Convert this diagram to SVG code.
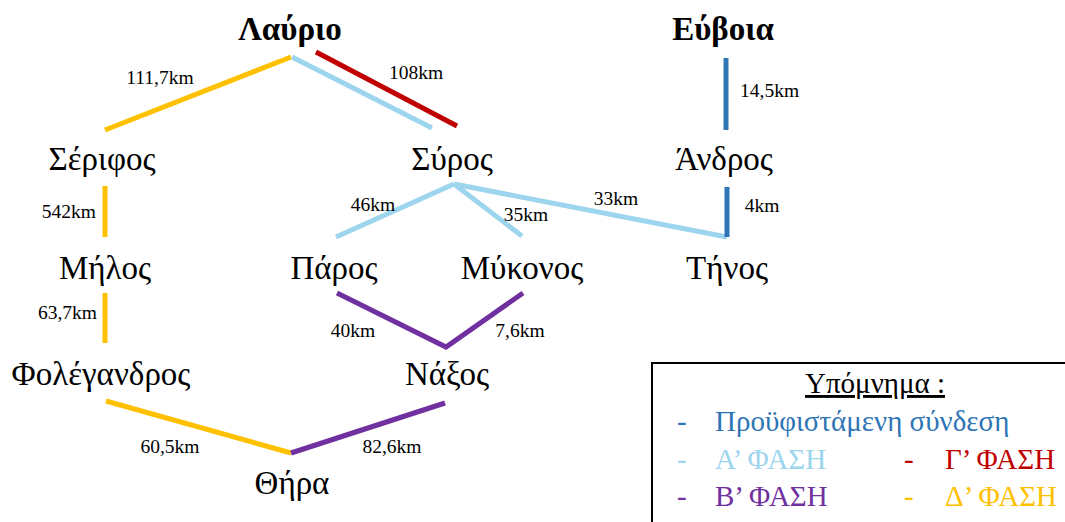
<svg xmlns="http://www.w3.org/2000/svg" width="1065" height="522" viewBox="0 0 1065 522">
<style>
text{font-family:'Liberation Serif','DejaVu Serif',serif}
.n{font-size:33px;fill:#000;text-anchor:middle}
.b{font-weight:bold}
.l{font-size:19.5px;fill:#000}
.m{text-anchor:middle}
.e{text-anchor:end}
.g{font-size:29px}
.c{fill:none;stroke-width:5;stroke-linecap:butt}
.y{stroke:#FFC000}.lb{stroke:#9DD5EE}.r{stroke:#C00000}.p{stroke:#7030A0}.bl{stroke:#2E75B6}
</style>
<rect width="1065" height="522" fill="#fff"/>
<g id="connectors">
<line class="c y" x1="291" y1="57" x2="105" y2="130"/>
<line class="c lb" x1="292" y1="57" x2="432" y2="128"/>
<line class="c r" x1="316" y1="52" x2="457" y2="126"/>
<line class="c bl" x1="726" y1="58" x2="726" y2="130"/>
<line class="c y" x1="105" y1="186" x2="105" y2="237"/>
<line class="c y" x1="105" y1="293" x2="105" y2="343"/>
<line class="c y" x1="106" y1="401" x2="291" y2="453"/>
<line class="c p" x1="291" y1="453" x2="445" y2="403"/>
<polyline class="c p" points="337,293 446,347 523,293"/>
<line class="c lb" x1="336" y1="237" x2="454" y2="184"/>
<line class="c lb" x1="454" y1="184" x2="522" y2="236"/>
<polyline class="c lb" points="454,184 727,237"/>
<line class="c bl" x1="727" y1="187" x2="727" y2="237"/>
<text class="l m" x="160" y="84">111,7km</text>
<text class="l m" x="416" y="79">108km</text>
<text class="l" x="740" y="97">14,5km</text>
<text class="l e" x="96" y="218">542km</text>
<text class="l e" x="97" y="319">63,7km</text>
<text class="l m" x="373" y="211">46km</text>
<text class="l m" x="526" y="221">35km</text>
<text class="l m" x="616" y="205">33km</text>
<text class="l m" x="762" y="212">4km</text>
<text class="l m" x="353" y="337">40km</text>
<text class="l m" x="520" y="337">7,6km</text>
<text class="l m" x="170" y="453">60,5km</text>
<text class="l m" x="392" y="453">82,6km</text>
</g>
<g id="lavrio"><text class="n b" x="290" y="40">Λαύριο</text></g>
<g id="evia"><text class="n b" x="723" y="40">Εύβοια</text></g>
<g id="serifos"><text class="n" x="102" y="170">Σέριφος</text></g>
<g id="syros"><text class="n" x="452" y="170">Σύρος</text></g>
<g id="andros"><text class="n" x="724" y="170">Άνδρος</text></g>
<g id="milos"><text class="n" x="105" y="279">Μήλος</text></g>
<g id="paros"><text class="n" x="334" y="279">Πάρος</text></g>
<g id="mykonos"><text class="n" x="522" y="279">Μύκονος</text></g>
<g id="tinos"><text class="n" x="727" y="279">Τήνος</text></g>
<g id="folegandros"><text class="n" x="101" y="385">Φολέγανδρος</text></g>
<g id="naxos"><text class="n" x="447" y="385">Νάξος</text></g>
<g id="thira"><text class="n" x="292" y="494">Θήρα</text></g>
<g id="legend">
<rect x="652" y="363" width="420" height="170" fill="#fff" stroke="#000" stroke-width="2"/>
<text class="g" x="875" y="393" text-anchor="middle" text-decoration="underline" fill="#000">Υπόμνημα :</text>
<g fill="#2E75B6"><text class="g" x="677" y="431">-</text><text class="g" x="715" y="431">Προϋφιστάμενη σύνδεση</text></g>
<g fill="#9DD5EE"><text class="g" x="677" y="469">-</text><text class="g" x="715" y="469">Α’ ΦΑΣΗ</text></g>
<g fill="#C00000"><text class="g" x="904" y="469">-</text><text class="g" x="945" y="469">Γ’ ΦΑΣΗ</text></g>
<g fill="#7030A0"><text class="g" x="677" y="506">-</text><text class="g" x="715" y="506">Β’ ΦΑΣΗ</text></g>
<g fill="#FFC000"><text class="g" x="904" y="506">-</text><text class="g" x="945" y="506">Δ’ ΦΑΣΗ</text></g>
</g>
</svg>
